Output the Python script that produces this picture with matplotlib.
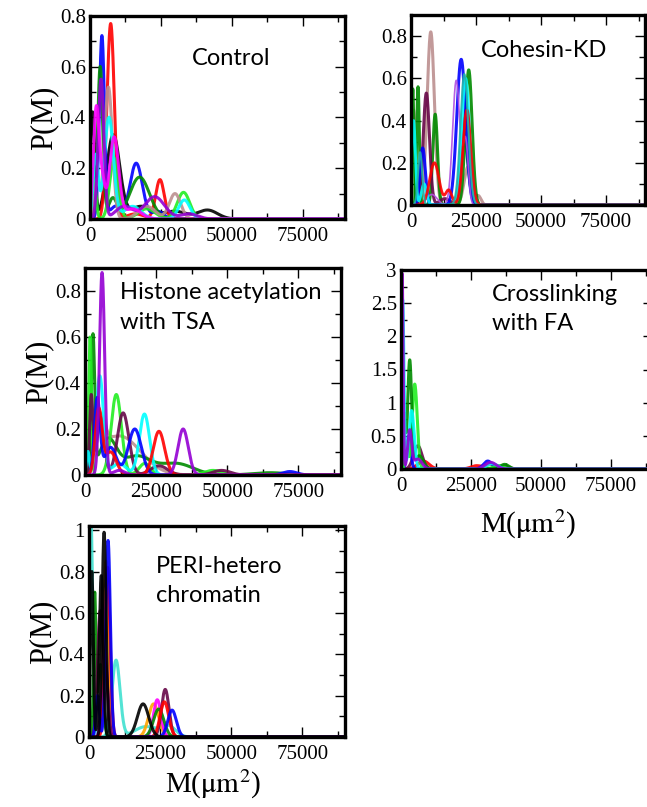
import numpy as np
import matplotlib.pyplot as plt
from matplotlib.ticker import MultipleLocator, FuncFormatter

plt.rcParams['font.family'] = 'Liberation Serif'
plt.rcParams['mathtext.fontset'] = 'stix'

# peaks of each curve: [centre M, height P, width]
control_colors = ['black', '#FF0000', '#0000FF', '#008B00', '#22EE22',
                  '#BC8F8F', '#00FFFF', '#9400D3', '#FF00FF']
control_peaks = [
    [[900, 0.42, 800], [8200, 0.33, 2300], [18000, 0.05, 4000], [30000, 0.03, 4000], [41500, 0.035, 3500]],
    [[7300, 0.77, 1300], [16000, 0.02, 3000], [24700, 0.155, 1500]],
    [[4200, 0.72, 900], [9000, 0.05, 2000], [16300, 0.22, 2200], [24000, 0.03, 2000]],
    [[3600, 0.6, 900], [8000, 0.08, 1500], [17500, 0.165, 3500]],
    [[1500, 0.15, 700], [8500, 0.24, 1500], [20000, 0.04, 3000], [33000, 0.105, 2200]],
    [[2500, 0.15, 800], [6500, 0.52, 1400], [20000, 0.05, 3000], [30000, 0.1, 2000]],
    [[2000, 0.25, 900], [6700, 0.4, 1600], [15000, 0.05, 3000], [33300, 0.075, 2000]],
    [[3900, 0.55, 1000], [12000, 0.05, 3000], [22800, 0.088, 3500], [35000, 0.02, 3000]],
    [[2200, 0.43, 1000], [4300, 0.14, 1000], [8500, 0.32, 1600], [15000, 0.04, 3000]],
]

cohesin_colors = ['#BC8F8F', '#008B00', '#008B00', '#670748', '#0000FF',
                  '#B050E0', '#00FFFF', '#FF0000', '#20B2AA']
cohesin_peaks = [
    [[1000, 0.45, 700], [7600, 0.82, 1400], [21900, 0.18, 1500], [26000, 0.04, 1000]],
    [[700, 0.55, 400], [9300, 0.43, 900], [20500, 0.3, 1500]],
    [[2700, 0.56, 500], [22200, 0.64, 1300]],
    [[5900, 0.53, 1200], [13000, 0.03, 2000], [21200, 0.45, 1500]],
    [[4500, 0.27, 1000], [19300, 0.69, 1700]],
    [[8000, 0.05, 2000], [17400, 0.59, 1400], [21000, 0.3, 1000]],
    [[1000, 0.4, 700], [5000, 0.1, 1000], [21000, 0.6, 1500]],
    [[9000, 0.2, 1800], [14500, 0.07, 1200], [21500, 0.45, 1500]],
    [[3500, 0.25, 800], [20500, 0.62, 1500]],
]
cohesin_widths = [2.2, 2.2, 2.2, 2.2, 2.2, 1.2, 2.0, 2.0, 1.5]

tsa_colors = ['#BC8F8F', '#008B00', '#22EE22', '#670748', '#00FFFF',
              '#0000FF', '#FF0000', '#9400D3']
tsa_peaks = [
    [[5000, 0.16, 1800], [12000, 0.17, 7500]],
    [[2800, 0.58, 600], [8000, 0.15, 3000], [18000, 0.08, 5000], [32000, 0.05, 6000], [65000, 0.01, 6000]],
    [[1800, 0.6, 500], [11000, 0.35, 1800], [21000, 0.05, 2000], [45000, 0.02, 3000]],
    [[2200, 0.34, 600], [5500, 0.25, 1300], [13400, 0.27, 2000], [26000, 0.04, 3000], [48000, 0.02, 3000]],
    [[1000, 0.1, 500], [5200, 0.43, 1300], [12000, 0.05, 2500], [20900, 0.265, 1800]],
    [[4300, 0.33, 1000], [9000, 0.12, 2000], [17500, 0.2, 2300], [72000, 0.015, 2500]],
    [[4800, 0.28, 1200], [9000, 0.1, 2000], [26000, 0.19, 2000]],
    [[6000, 0.88, 900], [12000, 0.02, 2000], [34500, 0.2, 1800]],
]

fa_colors = ['#FF0000', '#670748', '#0000FF', '#22EE22', '#008B00',
             '#00FFFF', '#9400D3']
fa_peaks = [
    [[8000, 0.12, 2000], [27000, 0.05, 2000], [32000, 0.07, 1500]],
    [[6000, 0.35, 1500], [37000, 0.05, 1500]],
    [[2800, 0.5, 700], [31000, 0.12, 1500]],
    [[2000, 0.4, 500], [4900, 1.28, 900], [35000, 0.05, 2000]],
    [[1200, 0.8, 400], [3100, 1.63, 700], [6500, 0.2, 1500], [37000, 0.07, 1500]],
    [[600, 2.55, 450], [3800, 0.88, 900], [32500, 0.08, 2000]],
    [[400, 2.95, 350], [3100, 0.57, 700], [6000, 0.15, 1500], [32000, 0.1, 2000]],
]

peri_colors = ['#40E0D0', '#FFA500', '#FF00FF', '#008B00', '#670748',
               '#FF0000', '#0000FF', 'black', 'black']
peri_peaks = [
    [[700, 1.05, 600], [9500, 0.37, 1400], [20000, 0.05, 4000], [28000, 0.05, 2500]],
    [[6000, 0.85, 900], [22700, 0.16, 1800]],
    [[5500, 0.45, 900], [24000, 0.18, 1300]],
    [[2000, 0.67, 400], [4000, 0.35, 900], [24500, 0.135, 1800]],
    [[3900, 0.6, 900], [6000, 0.3, 800], [26800, 0.23, 1300]],
    [[6500, 0.82, 900], [26500, 0.17, 1500]],
    [[3000, 0.2, 600], [6700, 0.95, 800], [29200, 0.13, 1500]],
    [[1000, 0.8, 500], [4300, 0.78, 700], [19000, 0.16, 2000]],
    [[5300, 0.99, 700]],
]

x_ticks = [0, 25000, 50000, 75000]
m = np.linspace(0, 90000, 2401)


def curve(peaks):
    y = np.zeros_like(m)
    for c, h, w in peaks:
        y += h * np.exp(-0.5 * ((m - c) / w) ** 2)
    return y


def panel(rect, colors, peaks, ymax, ystep, yminor, label, lx, ly,
          widths=None, ylabel=True):
    ax = fig.add_axes(rect)
    for i, (col, pk) in enumerate(zip(colors, peaks)):
        lw = widths[i] if widths else 2.2
        ax.plot(m, curve(pk), color=col, lw=lw, alpha=0.9)
    ax.set_xlim(0, 90000)
    ax.set_ylim(0, ymax)
    ax.set_xticks(x_ticks)
    ax.xaxis.set_minor_locator(MultipleLocator(12500))
    ax.yaxis.set_major_locator(MultipleLocator(ystep))
    ax.yaxis.set_minor_locator(MultipleLocator(yminor))
    ax.yaxis.set_major_formatter(FuncFormatter(lambda v, p: f"{v:g}"))
    ax.tick_params(which='both', direction='in', top=True, right=True,
                   width=1.0, labelsize=15)
    ax.tick_params(axis='y', pad=3)
    ax.tick_params(axis='x', pad=6)
    ax.tick_params(which='major', length=7)
    ax.tick_params(which='minor', length=4)
    for s in ax.spines.values():
        s.set_linewidth(2.4)
    if ylabel:
        ax.set_ylabel('P(M)', fontsize=22, labelpad=1)
    ax.text(lx, ly, label, transform=ax.transAxes, fontsize=17,
            family='Lato', va='top', ha='left', linespacing=1.5)
    return ax


W, H = 647, 807
fig = plt.figure(figsize=(W / 100, H / 100), dpi=100)


def frac(left, top, right, bottom):
    return [left / W, 1 - bottom / H, (right - left) / W, (bottom - top) / H]


panel(frac(90, 16, 345, 219), control_colors, control_peaks, 0.8, 0.2, 0.1,
      'Control', 0.4, 0.84)
panel(frac(411, 15, 645, 205), cohesin_colors, cohesin_peaks, 0.9, 0.2, 0.1,
      'Cohesin-KD', 0.3, 0.87, widths=cohesin_widths, ylabel=False)
panel(frac(85, 268, 341, 475), tsa_colors, tsa_peaks, 0.9, 0.2, 0.1,
      'Histone acetylation\nwith TSA', 0.135, 0.93)
panel(frac(401, 270, 653, 469), fa_colors, fa_peaks, 3, 0.5, 0.25,
      'Crosslinking\nwith FA', 0.36, 0.93, ylabel=False)
panel(frac(89, 526, 345, 737), peri_colors, peri_peaks, 1.02, 0.2, 0.1,
      'PERI-hetero\nchromatin', 0.26, 0.86)

xlab = r'M($\mathrm{\mu m^2}$)'
fig.text(528 / W, 1 - 524 / H, xlab, fontsize=21, ha='center', va='center')
fig.text(213 / W, 1 - 784 / H, xlab, fontsize=21, ha='center', va='center')

fig.savefig('out.png', dpi=100)
